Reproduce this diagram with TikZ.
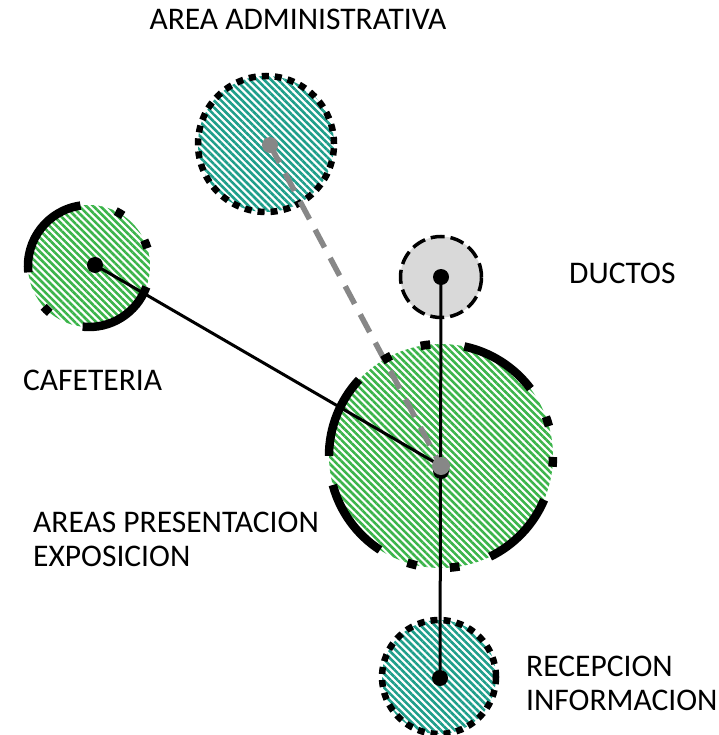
\documentclass[tikz,border=0pt]{standalone}
\usepackage{fontspec}
\setmainfont{Carlito}
\usetikzlibrary{patterns.meta}
\definecolor{verdeazul}{HTML}{1E9E8A}
\definecolor{verde}{HTML}{3BB44A}
\definecolor{grisclaro}{HTML}{D9D9D9}
\definecolor{gris}{HTML}{878787}
\pgfdeclarelayer{zonas}
\pgfdeclarelayer{enlaces}
\pgfsetlayers{zonas,enlaces,main}

\begin{document}
\begin{tikzpicture}[x=1pt,y=1pt,
    rotulo/.style={font=\fontsize{31.5}{34}\selectfont,inner sep=0pt,align=left},
    zona/.style={circle,inner sep=0pt,minimum size=#1},
    rayado/.style={pattern={Lines[angle=-45,distance=5pt,line width=2.6pt]},pattern color=#1},
    punteado/.style={draw=black,line width=6.5pt,dash pattern=on 7pt off 6pt},
    tramo/.style={line width=8.5pt},
    enlace/.style={line width=3pt},
    punto/.style={circle,fill=#1,inner sep=0pt,minimum size=16pt}]
  \useasboundingbox (0,0) rectangle (718,-735);

  % zonas
  \begin{pgfonlayer}{zonas}
    \node[zona=136,rayado=verdeazul,punteado] (admin) at (266,-144) {};
    \node[zona=122,rayado=verde] (cafe) at (89,-266) {};
    \node[zona=81,fill=grisclaro,draw,line width=3.5pt,dash pattern=on 14pt off 6pt] (ductos) at (441,-277) {};
    \node[zona=224,rayado=verde] (expo) at (441,-456) {};
    \node[zona=114,rayado=verdeazul,punteado] (recep) at (439,-677) {};
  \end{pgfonlayer}

  % centros
  \node[punto=black] (p-cafe) at (95,-265) {};
  \node[punto=black] (p-ductos) at (441,-277) {};
  \node[punto=black] (p-recep) at (440,-678) {};
  \node[punto=black] (p-expo2) at (441,-471) {};
  \node[punto=gris] (p-admin) at (270,-145) {};
  \node[punto=gris,minimum size=18pt] (p-expo) at (441,-466) {};

  % relaciones
  \begin{pgfonlayer}{enlaces}
    \draw[draw=gris,line width=5.5pt,dash pattern=on 20pt off 12pt] (p-admin.center) -- (p-expo.center);
    \foreach \a/\b in {98/186,264/340,56/64,17/25,222/230}
      \draw[tramo] (cafe.center) ++(\a:61) arc[start angle=\a,end angle=\b,radius=61];
    \foreach \a/\b in {137/180,195/237,37/78,-64/-23,95.5/100.5,116.5/121.5,15.5/20.5,-5.5/-0.5,252.5/257.5,274.5/279.5}
      \draw[tramo] (expo.center) ++(\a:112) arc[start angle=\a,end angle=\b,radius=112];
    \draw[enlace] (p-cafe.center) -- (p-expo.center);
    \draw[enlace] (p-ductos.center) -- (p-recep.center);
  \end{pgfonlayer}

  % rotulos
  \node[rotulo,anchor=base] (t-admin) at (298,-30) {AREA ADMINISTRATIVA};
  \node[rotulo,anchor=base west] (t-cafe) at (23,-390) {CAFETERIA};
  \node[rotulo,anchor=base west] (t-ductos) at (569,-283) {DUCTOS};
  \node[rotulo,anchor=base west] (t-expo) at (33,-566) {AREAS PRESENTACION\\EXPOSICION};
  \node[rotulo,anchor=base west] (t-recep) at (526,-710) {RECEPCION\\INFORMACION};
\end{tikzpicture}
\end{document}
